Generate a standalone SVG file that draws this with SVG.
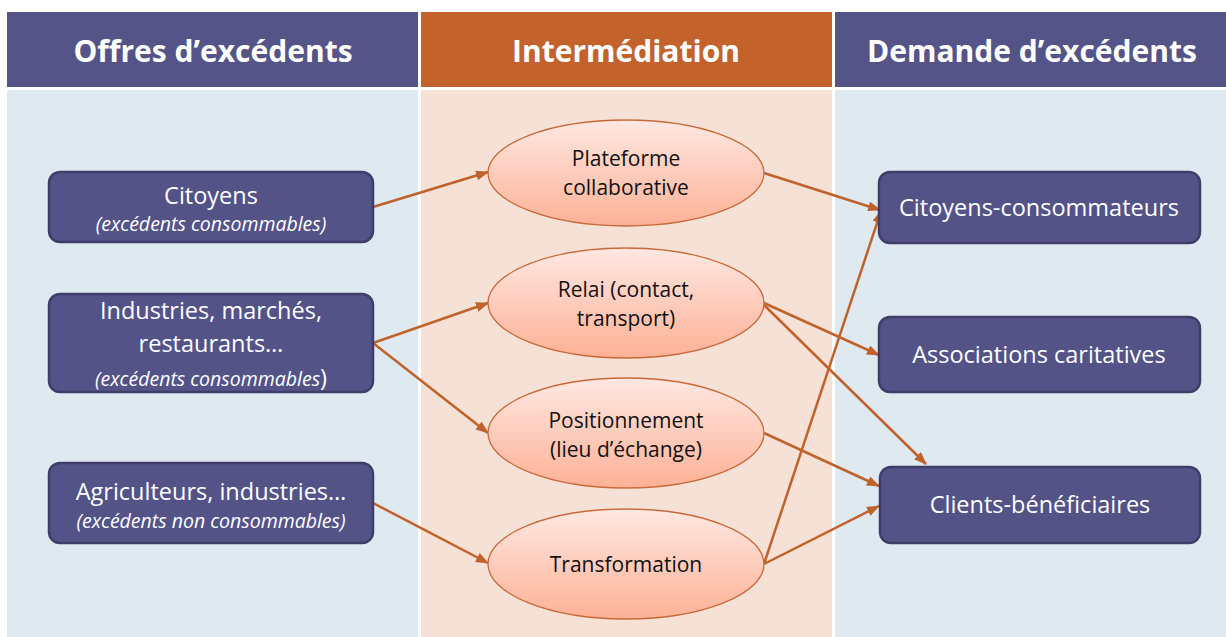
<svg xmlns="http://www.w3.org/2000/svg" width="1226" height="637" viewBox="0 0 1226 637">
<style>
.hdr{font-family:"Open Sans","Liberation Sans",sans-serif;font-weight:bold;font-size:30px;fill:#ffffff;text-anchor:middle}
.box{fill:#535388;stroke:#3e3e68;stroke-width:2.5}
.bt{font-family:"Open Sans","Liberation Sans",sans-serif;font-size:23.5px;fill:#ffffff;text-anchor:middle}
.it{font-style:italic;font-size:19.5px}
.ell{fill:url(#eg);stroke:#c8693a;stroke-width:1.3}
.et{font-family:"Open Sans","Liberation Sans",sans-serif;font-size:21px;fill:#111111;text-anchor:middle}
.con{stroke:#c0622b;stroke-width:2.5;fill:none;marker-end:url(#ah)}
</style>
<defs>
<linearGradient id="eg" x1="0" y1="0" x2="0" y2="1">
<stop offset="0" stop-color="#ffe8e2"/>
<stop offset="1" stop-color="#fdb196"/>
</linearGradient>
<marker id="ah" markerUnits="userSpaceOnUse" markerWidth="14" markerHeight="12" refX="12" refY="5" orient="auto">
<path d="M0,0 L13,5 L0,10 Z" fill="#c0622b"/>
</marker>
</defs>
<rect width="1226" height="637" fill="#ffffff"/>
<g id="columns">
<rect x="7" y="12" width="411" height="75" fill="#545488"/>
<rect x="421" y="12" width="411" height="75" fill="#c4622b"/>
<rect x="835" y="12" width="391" height="75" fill="#545488"/>
<rect x="7" y="90" width="411" height="547" fill="#dfe9f0"/>
<rect x="421" y="90" width="411" height="547" fill="#f5e1d5"/>
<rect x="835" y="90" width="391" height="547" fill="#dfe9f0"/>
<text class="hdr" x="213" y="62">Offres d’excédents</text>
<text class="hdr" x="626" y="62">Intermédiation</text>
<text class="hdr" x="1032" y="62">Demande d’excédents</text>
</g>
<g id="connectors">
<line class="con" x1="373" y1="207" x2="488" y2="172"/>
<line class="con" x1="373" y1="343" x2="488" y2="303"/>
<line class="con" x1="373" y1="343" x2="488" y2="433"/>
<line class="con" x1="373" y1="503" x2="488" y2="563"/>
<line class="con" x1="764" y1="173" x2="880" y2="210"/>
<line class="con" x1="764" y1="303" x2="879" y2="355"/>
<line class="con" x1="764" y1="305" x2="926" y2="464"/>
<line class="con" x1="764" y1="433" x2="879" y2="486"/>
<line class="con" x1="764" y1="564" x2="879" y2="506"/>
<line class="con" x1="764" y1="564" x2="881" y2="211"/>
</g>
<g id="n-citoyens">
<rect class="box" x="49" y="172" width="324" height="70" rx="11"/>
<text class="bt" x="211" y="204">Citoyens</text>
<text class="bt it" x="211" y="231">(excédents consommables)</text>
</g>
<g id="n-industries">
<rect class="box" x="49" y="294" width="324" height="98" rx="11"/>
<text class="bt" x="211" y="319">Industries, marchés,</text>
<text class="bt" x="211" y="352">restaurants…</text>
<text class="bt" x="211" y="386"><tspan class="it">(excédents consommables</tspan>)</text>
</g>
<g id="n-agriculteurs">
<rect class="box" x="49" y="463" width="324" height="80" rx="11"/>
<text class="bt" x="211" y="500">Agriculteurs, industries…</text>
<text class="bt it" x="211" y="528">(excédents non consommables)</text>
</g>
<g id="n-plateforme">
<ellipse class="ell" cx="626" cy="173" rx="138" ry="53"/>
<text class="et" x="626" y="166">Plateforme</text>
<text class="et" x="626" y="195">collaborative</text>
</g>
<g id="n-relai">
<ellipse class="ell" cx="626" cy="303" rx="138" ry="55"/>
<text class="et" x="626" y="297">Relai (contact,</text>
<text class="et" x="626" y="326">transport)</text>
</g>
<g id="n-positionnement">
<ellipse class="ell" cx="626" cy="433" rx="138" ry="55"/>
<text class="et" x="626" y="428">Positionnement</text>
<text class="et" x="626" y="457">(lieu d’échange)</text>
</g>
<g id="n-transformation">
<ellipse class="ell" cx="626" cy="564" rx="138" ry="55"/>
<text class="et" x="626" y="572">Transformation</text>
</g>
<g id="n-citoyens-conso">
<rect class="box" x="879" y="172" width="321" height="71" rx="11"/>
<text class="bt" x="1039" y="216">Citoyens-consommateurs</text>
</g>
<g id="n-associations">
<rect class="box" x="879" y="317" width="321" height="75" rx="11"/>
<text class="bt" x="1039" y="363">Associations caritatives</text>
</g>
<g id="n-clients">
<rect class="box" x="880" y="467" width="320" height="76" rx="11"/>
<text class="bt" x="1040" y="513">Clients-bénéficiaires</text>
</g>
</svg>
